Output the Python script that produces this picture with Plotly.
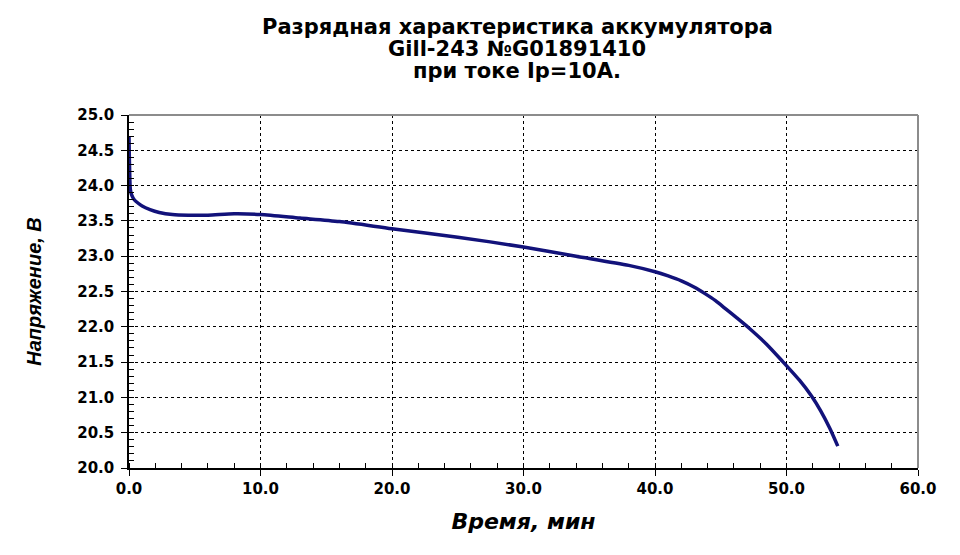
import plotly.graph_objects as go

# Discharge curve (time in minutes, voltage in volts)
time_min = [0, 0.02, 0.05, 0.1, 0.2, 0.4, 0.7, 1.0, 1.6, 2.3, 3.3, 4.5, 6, 8, 10, 13,
            16, 20, 25, 30, 34, 38, 40, 41, 42, 43, 43.8, 44.6, 45.4, 46.2, 47.1,
            48.5, 49.7, 51, 51.9, 52.6, 53.3, 53.9]
voltage = [24.7, 24.45, 24.2, 23.95, 23.87, 23.8, 23.75, 23.71, 23.66, 23.62, 23.59,
           23.58, 23.58, 23.6, 23.59, 23.54, 23.49, 23.39, 23.27, 23.13, 23.0, 22.87,
           22.78, 22.72, 22.65, 22.56, 22.47, 22.37, 22.25, 22.13, 21.99,
           21.75, 21.51, 21.24, 21.02, 20.81, 20.56, 20.31]

title_lines = ["Разрядная характеристика аккумулятора",
               "Gill-243 №G01891410",
               "при токе Ip=10А."]
x_label = "Время, мин"
y_label = "Напряжение, В"

wide = "DejaVu Sans, sans-serif"
narrow = "Liberation Sans, Arial, sans-serif"

fig = go.Figure()
fig.add_trace(go.Scatter(
    x=time_min, y=voltage, mode="lines",
    line=dict(color="#12127a", width=3.5, shape="spline", smoothing=0.7),
    showlegend=False,
))

fig.update_layout(
    width=960, height=555,
    margin=dict(l=129, r=42, t=115, b=87, autoexpand=False),
    paper_bgcolor="white", plot_bgcolor="white",
    font=dict(family=wide, color="black"),
)

# title as three separate lines (tighter spacing than the default title)
for s, ypix in zip(title_lines, [27, 49, 71]):
    fig.add_annotation(
        text=s, xref="paper", yref="paper",
        x=0.492, y=1 + (115 - ypix) / 353, xanchor="center", yanchor="middle",
        showarrow=False, font=dict(size=21, family=wide, color="black", weight="bold"),
    )

axis_common = dict(
    showline=True, linecolor="black", linewidth=1.5,
    ticks="outside", ticklen=6, tickcolor="black",
    tickfont=dict(size=15, family=wide, weight="bold"),
    showgrid=True, gridcolor="black", griddash="dot", gridwidth=1,
    zeroline=False, automargin=False, tickformat=".1f",
)

fig.update_xaxes(
    range=[0, 60], dtick=10,
    minor=dict(dtick=2, ticks="inside", ticklen=5, tickcolor="black", showgrid=False),
    title=dict(text="<i>%s</i>" % x_label, standoff=17,
               font=dict(size=22, family=wide, weight="bold")),
    **axis_common,
)
fig.update_yaxes(
    range=[20, 25], dtick=0.5, ticklabelstandoff=4,
    minor=dict(dtick=0.1, ticks="inside", ticklen=5, tickcolor="black", showgrid=False),
    title=dict(text="<i>%s</i>" % y_label, standoff=30,
               font=dict(size=20, family=narrow, weight="bold")),
    **axis_common,
)

# grey frame on top and right
fig.add_shape(type="line", xref="paper", yref="paper", x0=0, x1=1, y0=1, y1=1,
              line=dict(color="#8c8c8c", width=2))
fig.add_shape(type="line", xref="paper", yref="paper", x0=1, x1=1, y0=0, y1=1,
              line=dict(color="#8c8c8c", width=2))

fig.write_html("out.html", config={"displayModeBar": False},
               post_script="document.body.style.margin='0';")
